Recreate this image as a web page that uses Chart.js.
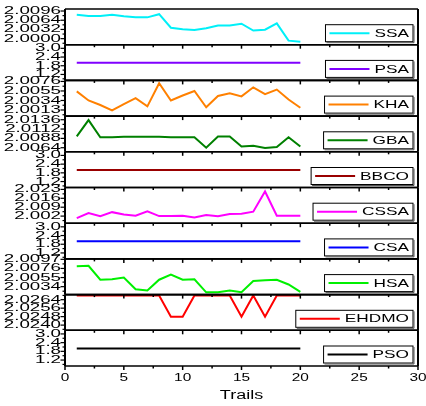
<!DOCTYPE html>
<html>
<head>
<meta charset="utf-8">
<script src="https://cdn.jsdelivr.net/npm/chart.js@4.4.0/dist/chart.umd.min.js"></script>
<style>
  html, body { margin: 0; padding: 0; background: #fff; }
  #wrap { width: 426px; height: 406px; }
</style>
</head>
<body>
<div id="wrap"><canvas id="chart" width="426" height="406"></canvas></div>
<script>
// trails 1..20
const trails = [1,2,3,4,5,6,7,8,9,10,11,12,13,14,15,16,17,18,19,20];

// values, top panel first
const ssa   = [2.0083,2.0079,2.0079,2.0083,2.0078,2.0074,2.0074,2.0085,2.0038,2.0033,2.0030,2.0036,2.0046,2.0046,2.0052,2.0028,2.0031,2.0053,1.9993,1.9989];
const psa   = [2,2,2,2,2,2,2,2,2,2,2,2,2,2,2,2,2,2,2,2];
const kha   = [2.0054,2.0034,2.0024,2.0012,2.0026,2.0039,2.0021,2.0072,2.0034,2.0045,2.0055,2.0019,2.0044,2.0050,2.0043,2.0063,2.0048,2.0058,2.0036,2.0018];
const gba   = [2.0093,2.0135,2.0091,2.0091,2.0092,2.0092,2.0092,2.0092,2.0091,2.0091,2.0091,2.0064,2.0093,2.0093,2.0067,2.0069,2.0063,2.0066,2.0091,2.0067];
const bbco  = [2,2,2,2,2,2,2,2,2,2,2,2,2,2,2,2,2,2,2,2];
const cssa  = [2.0004,2.0044,2.0020,2.0051,2.0033,2.0023,2.0057,2.0020,2.0020,2.0023,2.0010,2.0028,2.0018,2.0036,2.0039,2.0055,2.0214,2.0023,2.0023,2.0023];
const csa   = [2,2,2,2,2,2,2,2,2,2,2,2,2,2,2,2,2,2,2,2];
const hsa   = [2.0081,2.0082,2.0050,2.0051,2.0055,2.0028,2.0025,2.0050,2.0062,2.0050,2.0051,2.0021,2.0021,2.0025,2.0021,2.0047,2.0049,2.0050,2.0039,2.0022];
const ehdmo = [2.0268,2.0268,2.0268,2.0268,2.0268,2.0268,2.0268,2.0268,2.0248,2.0248,2.0268,2.0268,2.0268,2.0268,2.0248,2.0268,2.0248,2.0268,2.0268,2.0268];
const pso   = [2,2,2,2,2,2,2,2,2,2,2,2,2,2,2,2,2,2,2,2];

// y tick labels per panel
const ticksSSA   = [2.0000, 2.0032, 2.0064, 2.0096];
const ticksConst = [1.2, 1.8, 2.4, 3.0];
const ticksKHA   = [2.0013, 2.0034, 2.0055, 2.0076];
const ticksGBA   = [2.0064, 2.0088, 2.0112, 2.0136];
const ticksCSSA  = [2.002, 2.009, 2.016, 2.023];
const ticksHSA   = [2.0034, 2.0055, 2.0076, 2.0097];
const ticksEHDMO = [2.0240, 2.0248, 2.0256, 2.0264];
const xTicks = [0, 5, 10, 15, 20, 25, 30];

// axis limits per panel
const limSSA   = [1.9979, 2.0103];
const limConst = [0.79, 3.25];
const limKHA   = [1.99995, 2.00783];
const limGBA   = [2.00535, 2.01453];
const limCSSA  = [1.99641, 2.0245];
const limHSA   = [2.00157, 2.0098];
const limEHDMO = [2.02351, 2.02688];

const panels = [
  { name: 'SSA',   data: ssa,   color: '#00F0F8', ticks: ticksSSA,   lim: limSSA,   dec: 4 },
  { name: 'PSA',   data: psa,   color: '#8000FF', ticks: ticksConst, lim: limConst, dec: 1 },
  { name: 'KHA',   data: kha,   color: '#FF8000', ticks: ticksKHA,   lim: limKHA,   dec: 4 },
  { name: 'GBA',   data: gba,   color: '#008000', ticks: ticksGBA,   lim: limGBA,   dec: 4 },
  { name: 'BBCO',  data: bbco,  color: '#990000', ticks: ticksConst, lim: limConst, dec: 1 },
  { name: 'CSSA',  data: cssa,  color: '#FF00FF', ticks: ticksCSSA,  lim: limCSSA,  dec: 3 },
  { name: 'CSA',   data: csa,   color: '#0000FF', ticks: ticksConst, lim: limConst, dec: 1 },
  { name: 'HSA',   data: hsa,   color: '#00F000', ticks: ticksHSA,   lim: limHSA,   dec: 4 },
  { name: 'EHDMO', data: ehdmo, color: '#FF0000', ticks: ticksEHDMO, lim: limEHDMO, dec: 4 },
  { name: 'PSO',   data: pso,   color: '#000000', ticks: ticksConst, lim: limConst, dec: 1 }
];

const FONT = '"Liberation Sans", Arial, sans-serif';

// text squeezed wide like the original figure
function wideText(ctx, text, x, y, align, sx, size) {
  ctx.save();
  ctx.font = size + 'px ' + FONT;
  ctx.translate(x, y);
  ctx.scale(sx, 1);
  ctx.textAlign = align;
  ctx.textBaseline = 'middle';
  ctx.fillStyle = '#000';
  ctx.fillText(text, 0, 0);
  ctx.restore();
}

function line(ctx, x1, y1, x2, y2) {
  ctx.beginPath();
  ctx.moveTo(x1, y1);
  ctx.lineTo(x2, y2);
  ctx.stroke();
}

const framePlugin = {
  id: 'frames',
  afterDatasetsDraw(chart) {
    const ctx = chart.ctx;
    const area = chart.chartArea;
    const xs = chart.scales.x;
    ctx.save();
    ctx.strokeStyle = '#000';
    ctx.fillStyle = '#000';

    panels.forEach((p, i) => {
      const ys = chart.scales['y' + i];
      const top = ys.top, bottom = ys.bottom;

      // panel frame
      ctx.lineWidth = 1.6;
      line(ctx, area.left, top, area.right, top);
      line(ctx, area.left, bottom, area.right, bottom);
      ctx.lineWidth = 2;
      line(ctx, area.left, top, area.left, bottom);
      line(ctx, area.right, top, area.right, bottom);

      // y ticks, majors and minors
      const step = p.ticks[1] - p.ticks[0];
      ctx.lineWidth = 1.2;
      for (let k = -1; k < p.ticks.length; k++) {
        const v = p.ticks[0] + step * (k + 0.5);
        if (v > p.lim[0] && v < p.lim[1]) {
          const py = ys.getPixelForValue(v);
          line(ctx, area.left - 2.5, py, area.left, py);
        }
      }
      p.ticks.forEach(v => {
        const py = ys.getPixelForValue(v);
        line(ctx, area.left - 4.5, py, area.left, py);
        wideText(ctx, v.toFixed(p.dec), 61, py, 'right', 1.7, 11);
      });

      // x ticks pointing down from the panel bottom
      for (let v = 0; v <= 30; v += 2.5) {
        const px = xs.getPixelForValue(v);
        const len = (v % 5 === 0) ? 4 : 2.5;
        ctx.lineWidth = 1.5;
        line(ctx, px, bottom, px, bottom + len);
      }

      // legend box
      ctx.save();
      ctx.font = '11.5px ' + FONT;
      const tw = ctx.measureText(p.name).width * 1.5;
      ctx.restore();
      const bw = 4 + 40 + 5 + tw + 4;
      const bh = 17;
      const bx = 413 - bw;
      const by = bottom - 3 - bh;
      ctx.fillStyle = '#fff';
      ctx.fillRect(bx, by, bw, bh);
      ctx.lineWidth = 1;
      ctx.strokeStyle = '#000';
      ctx.strokeRect(bx, by, bw, bh);
      ctx.strokeStyle = '#555';
      line(ctx, bx + bw + 1, by + 1, bx + bw + 1, by + bh + 1);
      line(ctx, bx + 1, by + bh + 1, bx + bw + 1, by + bh + 1);
      ctx.strokeStyle = p.color;
      ctx.lineWidth = 2;
      line(ctx, bx + 4, by + bh / 2, bx + 44, by + bh / 2);
      ctx.strokeStyle = '#000';
      wideText(ctx, p.name, bx + 49, by + bh / 2 + 0.5, 'left', 1.5, 11.5);
    });

    // bottom axis labels and title
    xTicks.forEach(v => {
      wideText(ctx, String(v), xs.getPixelForValue(v), 378, 'center', 1.4, 11);
    });
    wideText(ctx, 'Trails', (area.left + area.right) / 2, 396, 'center', 1.5, 12);
    ctx.restore();
  }
};

const scales = {
  x: {
    type: 'linear', min: 0, max: 30,
    ticks: { display: false },
    grid: { display: false },
    border: { display: false },
    afterFit: s => { s.height = 40; }
  }
};
panels.forEach((p, i) => {
  scales['y' + i] = {
    type: 'linear',
    position: 'left',
    stack: 'panels',
    stackWeight: 1,
    weight: panels.length - i,
    min: p.lim[0],
    max: p.lim[1],
    ticks: { display: false },
    grid: { display: false },
    border: { display: false },
    afterFit: s => { s.width = 65; }
  };
});

const chart = new Chart(document.getElementById('chart'), {
  type: 'line',
  data: {
    datasets: panels.map((p, i) => ({
      label: p.name,
      data: trails.map((t, k) => ({ x: t, y: p.data[k] })),
      yAxisID: 'y' + i,
      borderColor: p.color,
      borderWidth: 2,
      pointRadius: 0,
      tension: 0,
      fill: false
    }))
  },
  options: {
    responsive: false,
    animation: false,
    layout: { padding: { top: 9, right: 8, left: 0, bottom: 0 } },
    plugins: { legend: { display: false }, tooltip: { enabled: false } },
    scales: scales
  },
  plugins: [framePlugin]
});
</script>
</body>
</html>
